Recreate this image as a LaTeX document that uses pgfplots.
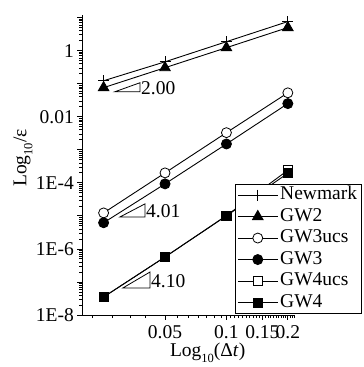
\documentclass[border=0pt]{standalone}
\usepackage{fontspec}
\setmainfont{Liberation Serif}
\usepackage{pgfplots}
\pgfplotsset{compat=1.18}
\newcommand\bigf{\fontsize{19.5}{22}\selectfont}
\newcommand\sub[1]{\raisebox{-0.3em}{\fontsize{12.5}{13}\selectfont #1}}
\begin{document}
\bigf
\begin{tikzpicture}
\begin{loglogaxis}[
  scale only axis, width=213pt, height=300pt,
  at={(0,0)}, anchor=south west,
  xmin=0.01959, xmax=0.2168, ymin=1e-8, ymax=12,
  axis lines*=left,
  axis line style={line width=0.9pt,-},
  tick style={line width=0.8pt,black},
  tick align=outside,
  major tick length=5pt, minor tick length=3pt,
  xtick={0.05,0.1,0.15,0.2}, xticklabels={\bigf 0.05,\bigf 0.1,\bigf 0.15,\bigf 0.2},
  minor xtick={0.022,0.0275,0.034,0.04,0.0575,0.065,0.0725,0.08,0.0875,0.095,0.105,0.11,0.115,0.12,0.125,0.13,0.135,0.14,0.145,0.155,0.16,0.165,0.17,0.175,0.18,0.185,0.19,0.195,0.205,0.21,0.215},
  ytick={1e-8,1e-7,1e-6,1e-5,1e-4,1e-3,1e-2,1e-1,1,10},
  yticklabels={\bigf 1E-8,,\bigf 1E-6,,\bigf 1E-4,,\bigf 0.01,,\bigf 1,},
  xticklabel style={yshift=-2pt, inner sep=3pt},
  yticklabel style={inner sep=3pt},
  xlabel={Log\sub{10}(Δ\textit{t})},
  ylabel={Log\sub{10}/ε},
  xlabel style={font=\bigf, at={(axis description cs:0.59,-0.127)}, anchor=center},
  ylabel style={font=\bigf, at={(axis description cs:-0.277,0.523)}, anchor=center},
  every axis plot/.append style={black, line width=0.9pt},
  legend style={at={(axis description cs:0.718,0.437)}, anchor=north west,
    draw=black, line width=0.8pt, fill=white,
    inner xsep=2pt, inner ysep=0pt, row sep=0pt,
    nodes={text height=14pt, text depth=4.5pt, inner ysep=1.5pt, inner xsep=2pt},
    /tikz/every even column/.append style={column sep=2pt}},
  legend cell align=left,
  legend image code/.code={\draw[mark repeat=2,mark phase=2,#1] plot coordinates {(0pt,0pt) (20pt,0pt) (40pt,0pt)};},
]
\addplot[mark=+, mark size=5.5pt, mark options={line width=0.9pt}] coordinates {(0.025,0.123) (0.05,0.46) (0.1,1.87) (0.2,7.6)};
\addlegendentry{\bigf Newmark}
\addplot[mark=triangle*, mark size=6pt, mark options={fill=black}] coordinates {(0.025,0.076) (0.05,0.305) (0.1,1.23) (0.2,5.0)};
\addlegendentry{\bigf GW2}
\addplot[mark=*, mark size=5pt, mark options={fill=white, line width=0.8pt}] coordinates {(0.025,1.23e-5) (0.05,2.0e-4) (0.1,3.3e-3) (0.2,0.053)};
\addlegendentry{\bigf GW3ucs}
\addplot[mark=*, mark size=5pt, mark options={fill=black}] coordinates {(0.025,6.2e-6) (0.05,9.3e-5) (0.1,1.5e-3) (0.2,0.025)};
\addlegendentry{\bigf GW3}
\addplot[mark=square*, mark size=4.5pt, mark options={fill=white, line width=0.8pt}] coordinates {(0.025,3.5e-8) (0.05,5.7e-7) (0.1,1.02e-5) (0.2,2.4e-4)};
\addlegendentry{\bigf GW4ucs}
\addplot[mark=square*, mark size=4.5pt, mark options={fill=black}] coordinates {(0.025,3.5e-8) (0.05,5.7e-7) (0.1,1.0e-5) (0.2,1.95e-4)};
\addlegendentry{\bigf GW4}
\draw[line width=0.8pt] (axis cs:0.02844,0.0573) -- (axis cs:0.0377,0.107) -- (axis cs:0.0377,0.0573) -- cycle;
\node[anchor=west, inner sep=1pt, font=\bigf] at (axis cs:0.0377,0.0757) {2.00};
\draw[line width=0.8pt] (axis cs:0.0301,9.3e-6) -- (axis cs:0.0399,2.31e-5) -- (axis cs:0.0399,9.3e-6) -- cycle;
\node[anchor=west, inner sep=1pt, font=\bigf] at (axis cs:0.0399,1.35e-5) {4.01};
\draw[line width=0.8pt] (axis cs:0.0311,6.6e-8) -- (axis cs:0.0422,2.0e-7) -- (axis cs:0.0422,6.6e-8) -- cycle;
\node[anchor=west, inner sep=1pt, font=\bigf] at (axis cs:0.0422,1.05e-7) {4.10};
\end{loglogaxis}
\pgfresetboundingbox
\path[use as bounding box] (-82pt,-52pt) rectangle (282pt,315pt);
\end{tikzpicture}
\end{document}
